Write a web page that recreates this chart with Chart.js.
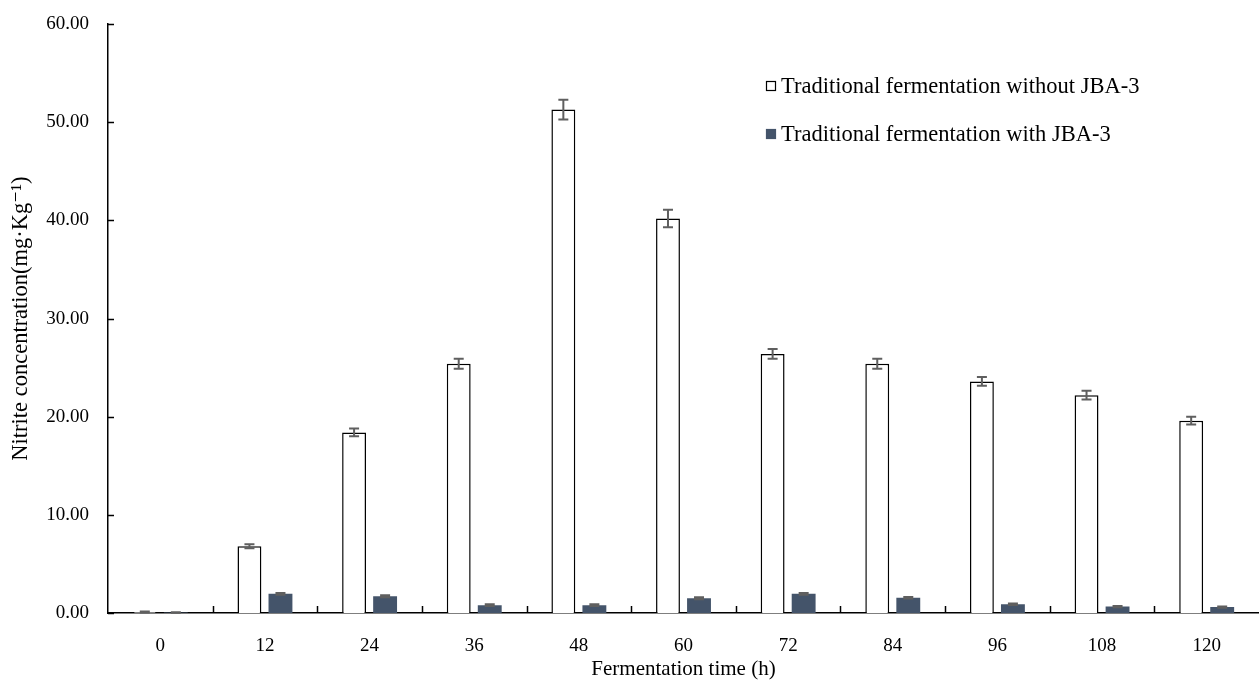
<!DOCTYPE html>
<html>
<head>
<meta charset="utf-8">
<script src="https://cdn.jsdelivr.net/npm/chart.js@4/dist/chart.umd.min.js"></script>
<style>
  html, body { margin: 0; padding: 0; background: #fff; }
  #wrap { width: 1259px; height: 680px; }
</style>
</head>
<body>
<div id="wrap"><canvas id="chart"></canvas></div>
<script>
const hours = ["0", "12", "24", "36", "48", "60", "72", "84", "96", "108", "120"];
const withoutJBA = [0.1, 6.8, 18.4, 25.4, 51.3, 40.2, 26.4, 25.4, 23.6, 22.2, 19.6];
const withoutErr = [0.05, 0.2, 0.4, 0.5, 1.0, 0.9, 0.5, 0.5, 0.45, 0.45, 0.4];
const withJBA = [0.05, 1.95, 1.7, 0.8, 0.8, 1.5, 1.95, 1.55, 0.9, 0.65, 0.6];
const withErr = [0.02, 0.1, 0.1, 0.08, 0.08, 0.1, 0.1, 0.08, 0.08, 0.06, 0.06];
const yTicks = [0, 10, 20, 30, 40, 50, 60];

const serif = "'Liberation Serif', 'DejaVu Serif', serif";

// error bars, inward ticks and the legend are drawn here
const extras = {
    id: "extras",
    afterDatasetsDraw(chart) {
        const { ctx, scales: { x, y } } = chart;
        const errs = [withoutErr, withErr];
        ctx.save();
        ctx.strokeStyle = "#5f5f5f";
        ctx.lineWidth = 2;
        chart.data.datasets.forEach((ds, di) => {
            const meta = chart.getDatasetMeta(di);
            meta.data.forEach((bar, i) => {
                const v = ds.data[i];
                const e = errs[di][i];
                const top = y.getPixelForValue(v + e);
                const bot = y.getPixelForValue(v - e);
                const cx = bar.x;
                ctx.beginPath();
                ctx.moveTo(cx, top); ctx.lineTo(cx, bot);
                ctx.moveTo(cx - 5, top); ctx.lineTo(cx + 5, top);
                ctx.moveTo(cx - 5, bot); ctx.lineTo(cx + 5, bot);
                ctx.stroke();
            });
        });
        ctx.restore();
    },
    afterDraw(chart) {
        const { ctx, scales: { x, y }, chartArea } = chart;
        ctx.save();
        ctx.strokeStyle = "#000";
        ctx.lineWidth = 1.5;
        ctx.beginPath();
        yTicks.forEach(t => {
            const py = Math.round(y.getPixelForValue(t)) + 0.5;
            ctx.moveTo(chartArea.left, py);
            ctx.lineTo(chartArea.left + 6, py);
        });
        for (let i = 1; i < hours.length; i++) {
            const px = Math.round((x.getPixelForValue(i - 1) + x.getPixelForValue(i)) / 2) + 0.5;
            ctx.moveTo(px, chartArea.bottom);
            ctx.lineTo(px, chartArea.bottom - 7);
        }
        ctx.stroke();

        // legend
        const items = [
            { label: "Traditional fermentation without JBA-3", fill: "#ffffff", stroke: "#000000", y: 86 },
            { label: "Traditional fermentation with JBA-3", fill: "#44546a", stroke: "#44546a", y: 134 }
        ];
        ctx.font = "22.5px " + serif;
        ctx.textBaseline = "middle";
        items.forEach(it => {
            ctx.fillStyle = it.fill;
            ctx.fillRect(766.5, it.y - 4.5, 9, 9);
            ctx.strokeStyle = it.stroke;
            ctx.lineWidth = 1.2;
            ctx.strokeRect(766.5, it.y - 4.5, 9, 9);
            ctx.fillStyle = "#000";
            ctx.fillText(it.label, 781, it.y + 1);
        });
        ctx.restore();
    }
};

new Chart(document.getElementById("chart"), {
    type: "bar",
    data: {
        labels: hours,
        datasets: [
            {
                label: "Traditional fermentation without JBA-3",
                data: withoutJBA,
                backgroundColor: "#ffffff",
                borderColor: "#000000",
                borderWidth: 1.5,
                borderSkipped: "bottom",
                categoryPercentage: 0.593,
                barPercentage: 0.77
            },
            {
                label: "Traditional fermentation with JBA-3",
                data: withJBA,
                backgroundColor: "#44546a",
                borderWidth: 0,
                categoryPercentage: 0.593,
                barPercentage: 0.77
            }
        ]
    },
    options: {
        responsive: true,
        maintainAspectRatio: false,
        animation: false,
        layout: { padding: { top: 0, right: 0, left: 8, bottom: 0 } },
        plugins: {
            legend: { display: false },
            tooltip: { enabled: false }
        },
        scales: {
            x: {
                offset: true,
                grid: { display: false, drawTicks: false },
                border: { display: true, color: "#000", width: 1.5 },
                ticks: { color: "#000", font: { family: serif, size: 19 }, padding: 22 },
                title: {
                    display: true,
                    text: "Fermentation time (h)",
                    color: "#000",
                    font: { family: serif, size: 21 },
                    padding: { top: 0, bottom: -2 }
                },
                afterFit(scale) { scale.height = 67; }
            },
            y: {
                min: 0,
                max: 60,
                grid: { display: false, drawTicks: false },
                border: { display: true, color: "#000", width: 1.5 },
                ticks: {
                    stepSize: 10,
                    color: "#000",
                    // small lineHeight keeps the plot top at y=24
                    font: { family: serif, size: 19, lineHeight: 0.55 },
                    padding: 19,
                    callback: (v) => Number(v).toFixed(2)
                },
                title: {
                    display: true,
                    text: "Nitrite concentration(mg·Kg⁻¹)",
                    color: "#000",
                    font: { family: serif, size: 22.5 },
                    padding: { top: 0, bottom: 0 }
                },
                afterFit(scale) { scale.width = 100; }
            }
        }
    },
    plugins: [extras]
});
</script>
</body>
</html>
